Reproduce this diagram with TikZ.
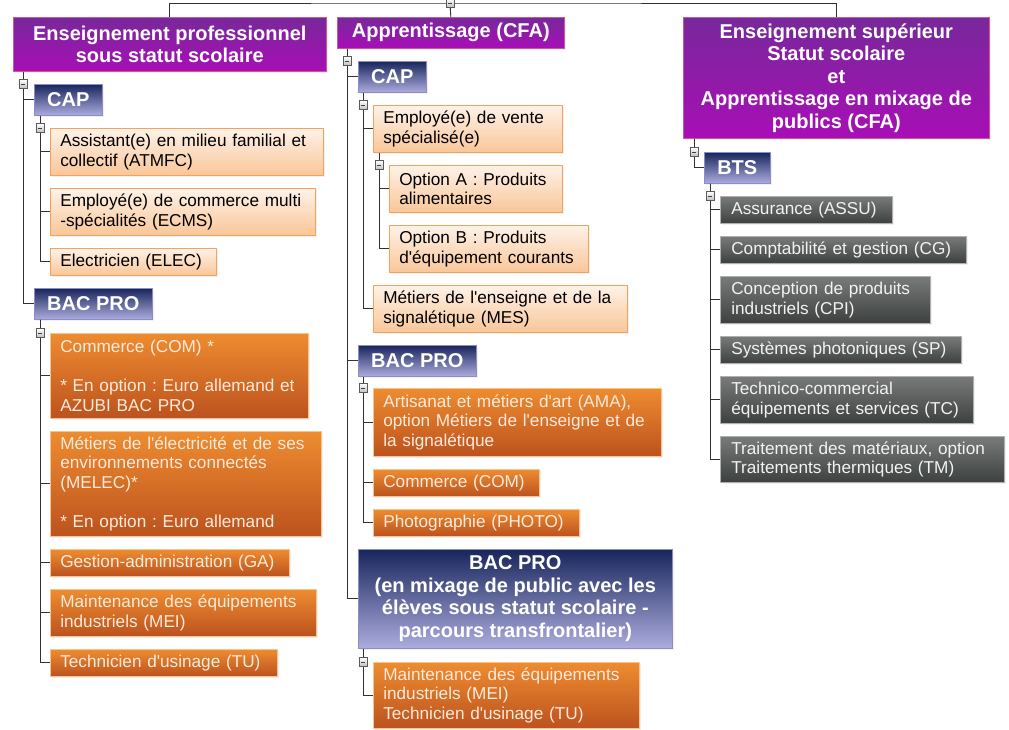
\documentclass[tikz,border=0pt]{standalone}
\usepackage{fontspec}
\setmainfont{Liberation Sans}
\newfontfamily\lsans{Liberation Sans}
\frenchspacing
\usetikzlibrary{shadows}
\definecolor{topT}{RGB}{120,40,155}
\definecolor{topBt}{RGB}{168,14,182}
\definecolor{topB}{RGB}{205,90,140}
\definecolor{hdT}{RGB}{24,38,92}
\definecolor{hdBt}{RGB}{172,172,222}
\definecolor{hdB}{RGB}{140,140,200}
\definecolor{loT}{RGB}{254,242,232}
\definecolor{loBt}{RGB}{249,198,152}
\definecolor{loB}{RGB}{244,162,92}
\definecolor{doT}{RGB}{238,140,48}
\definecolor{doBt}{RGB}{188,82,30}
\definecolor{doB}{RGB}{248,196,140}
\definecolor{doTx}{RGB}{252,234,220}
\definecolor{grT}{RGB}{120,123,121}
\definecolor{grBt}{RGB}{60,64,62}
\definecolor{grB}{RGB}{176,176,176}
\definecolor{grTx}{RGB}{242,242,242}
\definecolor{lineC}{RGB}{50,50,50}
\definecolor{expB}{RGB}{90,90,90}
\newcommand{\itfont}{\lsans\fontsize{17.2}{19.5}\selectfont\frenchspacing}
\newcommand{\hdfont}{\lsans\fontsize{20}{22.5}\selectfont\bfseries}
\tikzset{
  boxbase/.style={draw, line width=0.6pt, anchor=north west, inner sep=0pt,
    drop shadow={opacity=0.12, shadow xshift=2pt, shadow yshift=-2pt}},
  topbox/.style={boxbase, draw=topB, top color=topT, bottom color=topBt, text=white, font=\hdfont, align=center},
  hdbox/.style={boxbase, draw=hdB, top color=hdT, bottom color=hdBt, text=white, font=\hdfont, align=center},
  lightitem/.style={boxbase, draw=loB, top color=loT, bottom color=loBt, text=black, font=\itfont, align=left, inner xsep=10pt},
  darkitem/.style={boxbase, draw=doB, top color=doT, bottom color=doBt, text=doTx, font=\itfont, align=left, inner xsep=10pt},
  grayitem/.style={boxbase, draw=grB, top color=grT, bottom color=grBt, text=grTx, font=\itfont, align=left, inner xsep=11pt},
  conn/.style={draw=lineC, line width=0.9pt},
  expander/.style={draw=expB, line width=0.6pt, top color=white, bottom color=gray!50, minimum width=8pt, minimum height=9pt, inner sep=0pt,
    path picture={\draw[line width=1pt, black!75] ([xshift=-2.2pt]path picture bounding box.center) -- ([xshift=2.2pt]path picture bounding box.center);}}
}
\newcommand{\itembox}[7]{%
  \pgfmathsetlengthmacro{\tw}{#5-20}%
  \node[#2, minimum width=#5pt, minimum height=#6pt, text width=\tw] (#1) at (#3,#4) {#7};}
\newcommand{\headbox}[7]{%
  \node[#2, minimum width=#5pt, minimum height=#6pt] (#1) at (#3,#4) {#7};}
\begin{document}
\begin{tikzpicture}[x=1pt, y=-1pt]
\useasboundingbox (0,0) rectangle (1009,729);
% top level
\headbox{t1}{topbox}{13}{17}{313}{54}{Enseignement professionnel\\sous statut scolaire}
\headbox{t2}{topbox}{337}{17}{227}{31}{Apprentissage (CFA)}
\headbox{t3}{topbox}{683}{17}{306}{121}{Enseignement supérieur\\Statut scolaire\\et\\Apprentissage en mixage de\\publics (CFA)}
% left column
\headbox{lcap}{hdbox}{34}{84}{68}{31}{CAP}
\itembox{l1}{lightitem}{50}{128}{273}{47}{Assistant(e) en milieu familial et\\collectif (ATMFC)}
\itembox{l2}{lightitem}{50}{188}{265}{47}{Employé(e) de commerce multi\\-spécialités (ECMS)}
\itembox{l3}{lightitem}{50}{248}{166}{27}{Electricien (ELEC)}
\headbox{lbac}{hdbox}{34}{288}{118}{31}{BAC PRO}
\itembox{l4}{darkitem}{50}{333}{258}{85}{Commerce (COM) *\\ ~\\ {}* En option : Euro allemand et\\AZUBI BAC PRO}
\itembox{l5}{darkitem}{50}{431}{271}{105}{Métiers de l'électricité et de ses\\environnements connectés\\(MELEC)*\\ ~\\ {}* En option : Euro allemand}
\itembox{l6}{darkitem}{50}{549}{239}{27}{Gestion-administration (GA)}
\itembox{l7}{darkitem}{50}{589}{266}{47}{Maintenance des équipements\\industriels (MEI)}
\itembox{l8}{darkitem}{50}{649}{227}{27}{Technicien d'usinage (TU)}
% middle column
\headbox{mcap}{hdbox}{358}{61}{68}{31}{CAP}
\itembox{m1}{lightitem}{373}{105}{189}{47}{Employé(e) de vente\\spécialisé(e)}
\itembox{m1a}{lightitem}{389}{165}{173}{47}{Option A : Produits\\alimentaires}
\itembox{m1b}{lightitem}{389}{225}{199}{47}{Option B : Produits\\d'équipement courants}
\itembox{m2}{lightitem}{373}{285}{254}{47}{Métiers de l'enseigne et de la\\signalétique (MES)}
\headbox{mbac}{hdbox}{358}{345}{118}{31}{BAC PRO}
\itembox{m3}{darkitem}{373}{388}{288}{68}{Artisanat et métiers d'art (AMA),\\option Métiers de l'enseigne et de\\la signalétique}
\itembox{m4}{darkitem}{373}{469}{166}{27}{Commerce (COM)}
\itembox{m5}{darkitem}{373}{509}{206}{27}{Photographie (PHOTO)}
\headbox{mbacb}{hdbox}{358}{549}{314}{99}{BAC PRO\\(en mixage de public avec les\\élèves sous statut scolaire -\\parcours transfrontalier)}
\itembox{m6}{darkitem}{373}{662}{266}{66}{Maintenance des équipements\\industriels (MEI)\\Technicien d'usinage (TU)}
% right column
\headbox{rbts}{hdbox}{704}{152}{66}{31}{BTS}
\itembox{r1}{grayitem}{720}{196}{170}{27}{Assurance (ASSU)}
\itembox{r2}{grayitem}{720}{236}{244}{27}{Comptabilité et gestion (CG)}
\itembox{r3}{grayitem}{720}{276}{208}{47}{Conception de produits\\industriels (CPI)}
\itembox{r4}{grayitem}{720}{336}{239}{27}{Systèmes photoniques (SP)}
\itembox{r5}{grayitem}{720}{376}{251}{47}{Technico-commercial\\équipements et services (TC)}
\itembox{r6}{grayitem}{720}{436}{282}{46}{Traitement des matériaux, option\\Traitements thermiques (TM)}
% connectors
\coordinate (root) at (450,3);
\draw[conn] (t1.north) |- (root) -| (t3.north);
\draw[conn] (root) -- (t2.north);
\foreach \c in {lcap,lbac} \draw[conn] ([xshift=10pt]t1.south west) |- (\c.west);
\foreach \c in {l1,l2,l3} \draw[conn] ([xshift=6pt]lcap.south west) |- (\c.west);
\foreach \c in {l4,l5,l6,l7,l8} \draw[conn] ([xshift=6pt]lbac.south west) |- (\c.west);
\foreach \c in {mcap,mbac,mbacb} \draw[conn] ([xshift=10pt]t2.south west) |- (\c.west);
\foreach \c in {m1,m2} \draw[conn] ([xshift=5pt]mcap.south west) |- (\c.west);
\foreach \c in {m1a,m1b} \draw[conn] ([xshift=6pt]m1.south west) |- (\c.west);
\foreach \c in {m3,m4,m5} \draw[conn] ([xshift=5pt]mbac.south west) |- (\c.west);
\draw[conn] ([xshift=5pt]mbacb.south west) |- (m6.west);
\draw[conn] ([xshift=11pt]t3.south west) |- (rbts.west);
\foreach \c in {r1,r2,r3,r4,r5,r6} \draw[conn] ([xshift=6pt]rbts.south west) |- (\c.west);
% expanders
\node[expander] (e0) at (root) {};
\node[expander] (e1) at ([xshift=10pt]t1.south west |- lcap.north) {};
\node[expander] (e2) at ([xshift=6pt]lcap.south west |- l1.north) {};
\node[expander] (e3) at ([xshift=6pt]lbac.south west |- l4.north) {};
\node[expander] (e4) at ([xshift=10pt]t2.south west |- mcap.north) {};
\node[expander] (e5) at ([xshift=5pt]mcap.south west |- m1.north) {};
\node[expander] (e6) at ([xshift=6pt]m1.south west |- m1a.north) {};
\node[expander] (e7) at ([xshift=5pt]mbac.south west |- m3.north) {};
\node[expander] (e8) at ([xshift=5pt]mbacb.south west |- m6.north) {};
\node[expander] (e9) at ([xshift=11pt]t3.south west |- rbts.north) {};
\node[expander] (e10) at ([xshift=6pt]rbts.south west |- r1.north) {};
\end{tikzpicture}
\end{document}
